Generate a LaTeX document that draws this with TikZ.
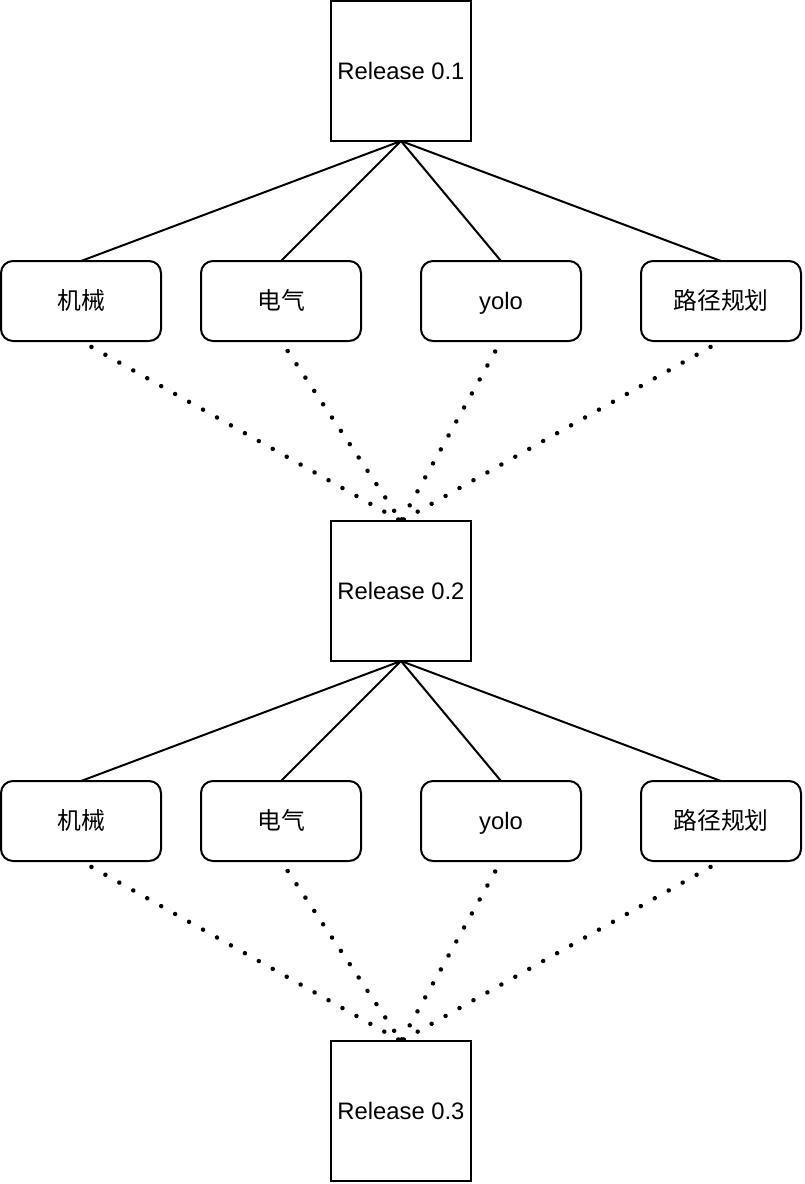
\documentclass[tikz,border=0pt]{standalone}
\usepackage{fontspec}
\setmainfont{Liberation Sans}
\newfontfamily\cjk{Noto Sans CJK SC}
\begin{document}
\begin{tikzpicture}[x=1pt,y=-1pt,
  txt/.style={font=\fontsize{23.8}{28}\selectfont,text height=20pt,text depth=4pt},
  relbox/.style={txt,draw=black,line width=2pt,minimum width=140pt,minimum height=140pt,inner sep=0pt,outer sep=0pt},
  modbox/.style={txt,draw=black,line width=2pt,rounded corners=12pt,minimum width=160pt,minimum height=80pt,inner sep=0pt,outer sep=0pt},
  link/.style={line width=2pt},
  dotlink/.style={line width=4.5pt,line cap=round,dash pattern=on 0.01pt off 15.99pt,dash phase=4pt}]
\useasboundingbox (0,0) rectangle (804,1184);
\node[relbox] (r1) at (401,71) {Release 0.1};
\node[relbox] (r2) at (401,591) {Release 0.2};
\node[relbox] (r3) at (401,1111) {Release 0.3};
\node[modbox] (a1) at (81,301) {\cjk 机械};
\node[modbox] (b1) at (281,301) {\cjk 电气};
\node[modbox] (c1) at (501,301) {yolo};
\node[modbox] (d1) at (721,301) {\cjk 路径规划};
\node[modbox] (a2) at (81,821) {\cjk 机械};
\node[modbox] (b2) at (281,821) {\cjk 电气};
\node[modbox] (c2) at (501,821) {yolo};
\node[modbox] (d2) at (721,821) {\cjk 路径规划};
\foreach \m in {a1,b1,c1,d1} {
  \draw[link] (r1.south) -- (\m.north);
  \draw[dotlink] (\m.south) -- (r2.north);
}
\foreach \m in {a2,b2,c2,d2} {
  \draw[link] (r2.south) -- (\m.north);
  \draw[dotlink] (\m.south) -- (r3.north);
}
\end{tikzpicture}
\end{document}
